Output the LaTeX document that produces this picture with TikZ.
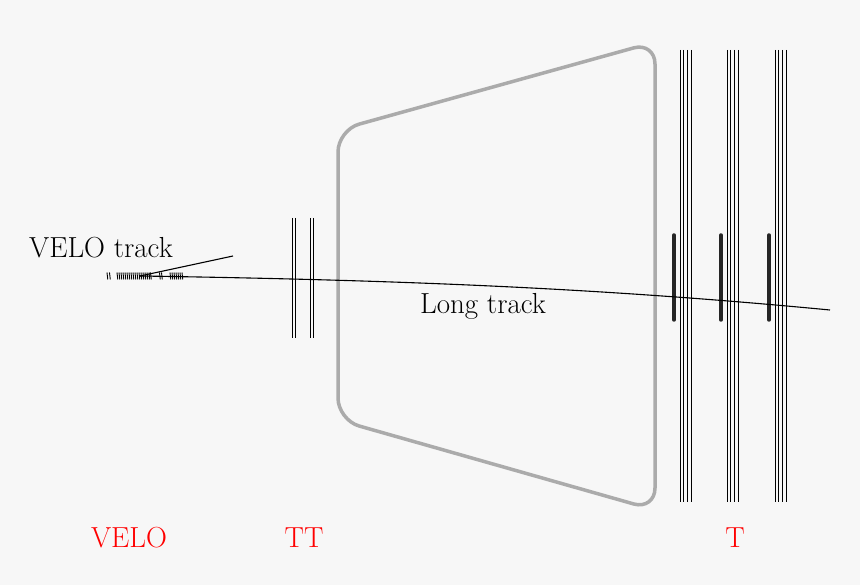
\documentclass[tikz,border=0pt]{standalone}
\usepackage{fontspec}
\begin{document}
\begin{tikzpicture}[x=1pt,y=-1pt,
  det/.style={line width=0.9pt,black},
  bar/.style={line width=3.5pt,black!85,line cap=round},
  lbl/.style={font=\fontsize{29}{33}\selectfont},
  red lbl/.style={lbl,text=red}]
\fill[black!3] (0,0) rectangle (860,585);
\useasboundingbox (0,0) rectangle (860,585);
% magnet
\draw[line width=3.5pt,black!33,rounded corners=22pt] (338,280) -- (338,130) -- (655,42) -- (655,510) -- (338,420) -- cycle;
% TT
\foreach \x in {292,295,310,313} \draw[det] (\x,218) -- (\x,338);
% T stations
\foreach \s in {680,727,775}{
  \foreach \d in {0,3.5,7,11} \draw[det] (\s+\d,50) -- (\s+\d,502);
}
\foreach \x in {674,721,769} \draw[bar] (\x,235) -- (\x,320);
% VELO hits
\foreach \x in {107,109.5,117,119,121,123,125,127,129,131,133,135,137,139,141,143,145,147,149,150.5,159.5,161.5,170,172,174,176,178,180,182}
  \draw[line width=0.9pt] (\x,272.5) -- (\x+0.8,279.5);
% tracks
\coordinate (v0) at (140,276);
\coordinate (ve) at (233,256);
\coordinate (le) at (830,310);
\draw[line width=1.1pt] (v0) -- (ve);
\draw[line width=1.1pt] (v0) .. controls (400,280) and (600,288) .. (le);
% labels
\node[lbl] (vt) at (101,248) {VELO track};
\node[lbl] (lt) at (483,306) {Long track};
\node[red lbl] (velo) at (129,538) {VELO};
\node[red lbl] (tt) at (304,538) {TT};
\node[red lbl] (t) at (735,538) {T};
\end{tikzpicture}
\end{document}
